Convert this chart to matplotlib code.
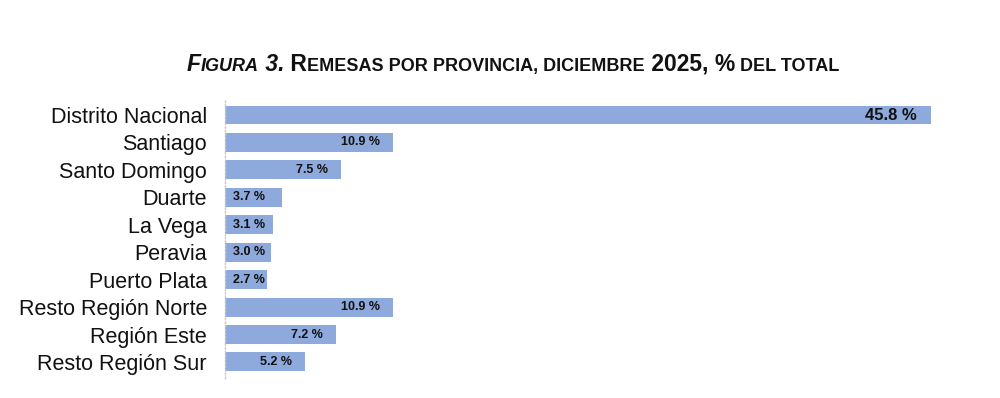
import matplotlib
matplotlib.use("Agg")
import matplotlib.pyplot as plt

categories = ["Distrito Nacional", "Santiago", "Santo Domingo", "Duarte", "La Vega",
              "Peravia", "Puerto Plata", "Resto Región Norte", "Región Este", "Resto Región Sur"]
values = [45.8, 10.9, 7.5, 3.7, 3.1, 3.0, 2.7, 10.9, 7.2, 5.2]
value_labels = ["45.8 %", "10.9 %", "7.5 %", "3.7 %", "3.1 %", "3.0 %", "2.7 %", "10.9 %", "7.2 %", "5.2 %"]

plt.rcParams['font.family'] = ['Liberation Sans', 'DejaVu Sans']

W, H = 1000, 398
fig = plt.figure(figsize=(W / 100, H / 100), dpi=100)
fig.patch.set_facecolor('white')

left_px, unit_px = 225, 15.41
xmax = 48
top_px, step_px = 115 - 27.44 * 0.6, 27.44
n = len(categories)
bottom_px = top_px + step_px * (n - 1 + 1.2)
ax = fig.add_axes([left_px / W, 1 - bottom_px / H, xmax * unit_px / W, (bottom_px - top_px) / H])

ypos = list(range(n))
ax.barh(ypos, values, height=0.69, color='#8EA9DB', zorder=2)
ax.set_xlim(0, xmax)
ax.set_ylim(n - 1 + 0.6, -0.6)
ax.set_yticks(ypos)
ax.set_yticklabels(categories, fontsize=15.5, color='#111111')
ax.tick_params(axis='y', length=0, pad=13)
ax.set_xticks([])
for s in ['top', 'right', 'bottom']:
    ax.spines[s].set_visible(False)
ax.spines['left'].set_color('#c8c8c8')
ax.spines['left'].set_linestyle(':')
ax.spines['left'].set_linewidth(1.0)

for i, (v, lab) in enumerate(zip(values, value_labels)):
    fs = 12 if i == 0 else 9
    if v < 4:
        ax.annotate(lab, xy=(0, i), xytext=(8 * 0.72, 0), textcoords='offset points',
                    ha='left', va='center', fontsize=fs, fontweight='bold', color='#111111')
    else:
        off = 14 if i == 0 else 13
        ax.annotate(lab, xy=(v, i), xytext=(-off * 0.72, 0), textcoords='offset points',
                    ha='right', va='center', fontsize=fs, fontweight='bold', color='#111111')

# Small-caps title built from pieces
big, small = 16.5, 13.0
pieces = [("F", big, 'italic'), ("IGURA", small, 'italic'), (" 3.", big, 'italic'),
          (" R", big, 'normal'), ("EMESAS POR PROVINCIA, DICIEMBRE", small, 'normal'),
          (" 2025, %", big, 'normal'), (" DEL TOTAL", small, 'normal')]
renderer = fig.canvas.get_renderer()
texts = []
baseline = 1 - 71 / H
for txt, fs, st in pieces:
    t = fig.text(0, baseline, txt, fontsize=fs, fontstyle=st, fontweight='bold',
                 ha='left', va='baseline', color='#111111')
    texts.append(t)
widths = [t.get_window_extent(renderer).width for t in texts]
total = sum(widths)
xx = 513 - total / 2
for t, w in zip(texts, widths):
    t.set_x(xx / W)
    xx += w

fig.savefig("out.png", dpi=100, facecolor='white')
